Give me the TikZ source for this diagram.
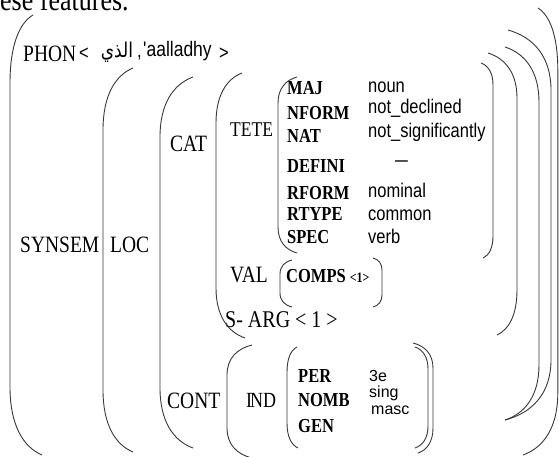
\documentclass[tikz,border=0pt]{standalone}
\usepackage{fontspec}
\setmainfont{Liberation Serif}
\newfontfamily\sansv{Liberation Sans}
\newfontfamily\arabicfont[Script=Arabic]{DejaVu Sans}
\TeXXeTstate=1
\newcommand\V[1]{\scalebox{1}[1.2]{#1}}
\newcommand\sqt{\XeTeXglyph\XeTeXglyphindex "quotesingle"\relax}
% bracket: xt yt L xb yb h
\newcommand\Br[6]{\draw[br] (#1,#2) .. controls ({#1-0.6*(#1-#3)},{#2+0.12*#6}) and (#3,{#2+0.45*#6}) .. (#3,{#2+#6}) -- (#3,{#5-#6}) .. controls (#3,{#5-0.45*#6}) and ({#4-0.6*(#4-#3)},{#5-0.12*#6}) .. (#4,#5);}
\begin{document}
\begin{tikzpicture}[x=1pt,y=-1pt,
  br/.style={draw=black!78, line width=0.9pt},
  lab/.style={font=\fontsize{19.5}{20}\selectfont, inner sep=0, anchor=base west},
  key/.style={font=\bfseries\fontsize{16.5}{17}\selectfont, inner sep=0, anchor=base west},
  val/.style={font=\sansv\fontsize{16.5}{17}\selectfont, inner sep=0, anchor=base west},
  sval/.style={font=\sansv\fontsize{16}{16}\selectfont, inner sep=0, anchor=base west}]
\fill[white] (0,0) rectangle (559,457);
\clip (0,0) rectangle (559,457);
% top text
\node[lab, font=\fontsize{26}{26}\selectfont] (ese) at (0,11) {\V{ese features.}};
% PHON
\node[lab] (phon) at (23,62) {\V{PHON}};
\node[val] (lt) at (79,60) {\V{<}};
\node[anchor=base, inner sep=0] (ar) at (117,58) {\arabicfont\fontsize{17}{17}\selectfont\V{\beginR الذي\endR}};
\node[val] (comma) at (137,58) {\V{,}};
\node[val, font=\sansv\fontsize{17.5}{18}\selectfont] (tr) at (143,57) {\V{\sqt aalladhy}};
\node[val] (gt) at (219,60) {\V{>}};
% labels
\node[lab] (synsem) at (20,252) {\V{SYNSEM}};
\node[lab] (loc) at (110,252) {\V{LOC}};
\node[lab] (cat) at (170,152) {\V{CAT}};
\node[lab, font=\fontsize{17.5}{18}\selectfont] (tete) at (230,137) {\V{TETE}};
\node[lab] (valk) at (230,282) {\V{VAL}};
\node[lab, font=\fontsize{20}{20}\selectfont] (sarg) at (225,327) {\V{S- ARG < 1 >}};
\node[lab] (cont) at (167,408) {\V{CONT}};
\node[lab, font=\fontsize{18}{18}\selectfont] (ind) at (246,407) {\V{I\kern-2ptND}};
% TETE features
\node[key] (maj) at (287,95) {\V{MAJ}};
\node[key] (nform) at (287,120) {\V{NFORM}};
\node[key] (nat) at (287,143) {\V{NAT}};
\node[key] (defini) at (287,173) {\V{DEFINI}};
\node[key] (rform) at (287,199) {\V{RFORM}};
\node[key] (rtype) at (287,220) {\V{RTYPE}};
\node[key] (spec) at (287,243) {\V{SPEC}};
\node[val] (noun) at (368,93) {\V{noun}};
\node[val] (ndecl) at (368,114) {\V{not\_declined}};
\node[val] (nsig) at (368,138) {\V{not\_significantly}};
\node[val] (dash) at (395,167) {\scalebox{1.4}[1.2]{–}};
\node[val] (nominal) at (368,197) {\V{nominal}};
\node[val] (common) at (368,220) {\V{common}};
\node[val] (verb) at (368,243) {\V{verb}};
% VAL
\node[key] (comps) at (286,282) {\V{COMPS {\fontsize{12}{12}\selectfont <1>}}};
% IND features
\node[key] (per) at (298,382) {\V{PER}};
\node[key] (nomb) at (298,406) {\V{NOMB}};
\node[key] (gen) at (298,432) {\V{GEN}};
\node[sval] (v3e) at (369,381) {3e};
\node[sval] (sing) at (369,397) {sing};
\node[sval] (masc) at (371,414) {masc};
% left brackets
\Br{33}{15}{10}{42}{455}{68}
\Br{133}{68}{103}{133}{452}{62}
\Br{193}{77}{160}{193}{448}{60}
\Br{242}{73}{216}{245}{338}{50}
\Br{297}{77}{278}{297}{253}{26}
\Br{292}{260}{280}{292}{307}{14}
\Br{252}{345}{227}{252}{458}{30}
\Br{297}{347}{287}{298}{448}{25}
% right brackets
\Br{538}{8}{557.8}{523}{455}{62}
\Br{508}{30}{551}{505}{420}{60}
\Br{505}{47}{539}{505}{420}{55}
\Br{488}{53}{517}{497}{335}{45}
\Br{481}{63}{493}{483}{258}{22}
\Br{373}{258}{382}{373}{307}{12}
\Br{413}{343}{433}{418}{453}{25}
\Br{415}{347}{428}{415}{448}{22}
\end{tikzpicture}
\end{document}
